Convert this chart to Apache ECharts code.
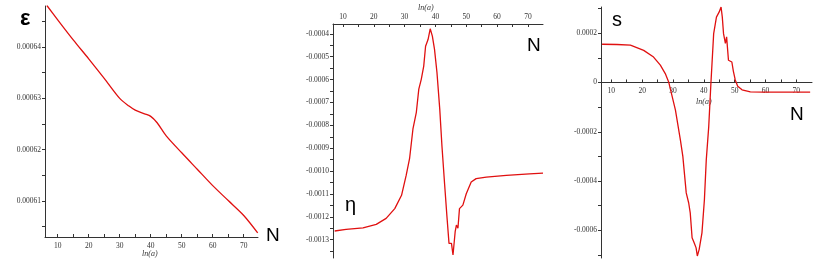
<!DOCTYPE html>
<html><head><meta charset="utf-8">
<script src="https://cdn.jsdelivr.net/npm/echarts@6/dist/echarts.min.js"></script>
<style>html,body{margin:0;padding:0;background:#fff}#c{width:817px;height:264px}</style>
</head><body><div id="c"></div>
<script>
// ---- data ----
const epsX = [6.5, 10, 15, 20, 25, 30, 33, 35, 38, 40, 42, 45, 50, 55, 60, 65, 70, 74.5];
const epsY = [0.0006481, 0.0006453, 0.0006414, 0.0006377, 0.0006339, 0.00063, 0.0006285, 0.0006277, 0.000627, 0.0006265, 0.0006253, 0.0006227, 0.0006194, 0.0006162, 0.000613, 0.0006101, 0.0006072, 0.0006038];

const etaX = [7.3, 11, 16.5, 20.8, 24, 26.8, 29, 30.5, 31.6, 32.7, 33.8, 34.6, 35.4, 36.2, 36.8, 37.6, 38.3, 39, 39.7, 40.5, 41.4, 42.1, 43, 43.7, 44.4, 44.9, 45.2, 45.7, 46.4, 46.8, 47.3, 47.8, 48.3, 48.9, 50, 51.6, 53.2, 56.5, 63, 70.5, 74.9];
const etaY = [-0.001262, -0.001255, -0.001248, -0.001233, -0.001207, -0.001164, -0.001106, -0.001019, -0.000946, -0.000816, -0.000743, -0.000642, -0.000599, -0.000541, -0.000454, -0.000425, -0.000378, -0.00041, -0.000468, -0.00057, -0.000729, -0.000888, -0.001062, -0.001193, -0.001316, -0.001323, -0.001316, -0.001367, -0.001265, -0.001236, -0.00125, -0.001164, -0.001158, -0.001149, -0.001099, -0.001048, -0.001033, -0.001026, -0.001019, -0.001012, -0.001009];

const sX = [7, 11.8, 16.2, 20.5, 23.7, 25.9, 27.5, 28.6, 30.8, 32.4, 33.2, 34.3, 35.1, 35.6, 36.2, 36.9, 37.5, 37.9, 38.5, 39.4, 40.2, 40.8, 41.6, 42.3, 43.2, 44.1, 44.6, 45, 45.6, 46, 46.4, 47, 47.4, 48, 49.1, 49.6, 50.2, 51, 52.4, 55.1, 59.4, 65.9, 74.5];
const sY = [0.000155, 0.000154, 0.000151, 0.00013, 0.000103, 0.00007, 0.000036, 0.000002, -0.000112, -0.000233, -0.0003, -0.000448, -0.000489, -0.000529, -0.00063, -0.000651, -0.000671, -0.000704, -0.000677, -0.00061, -0.000475, -0.000314, -0.000179, -0.000005, 0.000198, 0.000265, 0.000272, 0.000286, 0.000306, 0.000265, 0.000198, 0.000158, 0.000185, 0.00009, 0.000083, 0.000045, 0.00001, -0.000015, -0.00003, -0.000038, -0.000039, -0.000039, -0.000039];

const xTickLabels = [10, 20, 30, 40, 50, 60, 70];
const xTicks = [10, 15, 20, 25, 30, 35, 40, 45, 50, 55, 60, 65, 70];
const epsTickLabels = [0.00061, 0.00062, 0.00063, 0.00064];
const epsTicks = [0.000605, 0.00061, 0.000615, 0.00062, 0.000625, 0.00063, 0.000635, 0.00064, 0.000645];
const etaTickLabels = [-0.0013, -0.0012, -0.0011, -0.0010, -0.0009, -0.0008, -0.0007, -0.0006, -0.0005, -0.0004];
const etaTicks = [-0.00135, -0.0013, -0.00125, -0.0012, -0.00115, -0.0011, -0.00105, -0.001, -0.00095, -0.0009, -0.00085, -0.0008, -0.00075, -0.0007, -0.00065, -0.0006, -0.00055, -0.0005, -0.00045, -0.0004];
const sTickLabels = [-0.0006, -0.0004, -0.0002, 0, 0.0002];
const sTicks = [-0.0007, -0.0006, -0.0005, -0.0004, -0.0003, -0.0002, -0.0001, 0, 0.0001, 0.0002, 0.0003];

const zip = (a, b) => a.map((v, i) => [v, b[i]]);

const lblFont = {fontFamily: 'Liberation Serif', fontSize: 7.5, color: '#333'};
const axLine = {lineStyle: {color: '#333', width: 1}};

function xAxis(idx, min, max, pos, offset, margin) {
  return {
    type: 'value', gridIndex: idx, min: min, max: max, position: pos, offset: offset,
    axisLine: Object.assign({onZero: false}, axLine),
    axisTick: {customValues: xTicks, length: 3, inside: true, lineStyle: {color: '#333'}},
    axisLabel: Object.assign({customValues: xTickLabels, margin: margin}, lblFont),
    splitLine: {show: false}
  };
}
function yAxis(idx, min, max, ticks, labels, fmt) {
  return {
    type: 'value', gridIndex: idx, min: min, max: max,
    axisLine: Object.assign({show: true, onZero: false}, axLine),
    axisTick: {customValues: ticks, length: 3, lineStyle: {color: '#333'}},
    axisLabel: Object.assign({customValues: labels, margin: 4, formatter: fmt}, lblFont),
    splitLine: {show: false}
  };
}

const chart = echarts.init(document.getElementById('c'), null, {renderer: 'canvas'});
const lineStyle = {color: '#e01010', width: 1.3};
const bigFont = {fontFamily: 'Liberation Sans', fontSize: 19, fill: '#000'};

const g3 = {left: 601, width: 211, top: 7, height: 251};
const sMin = -0.000712, sMax = 0.000306;
const zeroOffset = -(0 - sMin) / (sMax - sMin) * g3.height;

chart.setOption({
  animation: false,
  grid: [
    {left: 45, width: 213, top: 6, height: 231},
    {left: 333, width: 210, top: 24, height: 234},
    g3
  ],
  xAxis: [
    xAxis(0, 5.9, 74.6, 'bottom', 0, 5),
    xAxis(1, 6.76, 74.9, 'top', 0, 3),
    xAxis(2, 6.65, 75.1, 'bottom', zeroOffset, 5)
  ],
  yAxis: [
    yAxis(0, 0.000603, 0.000648, epsTicks, epsTickLabels, v => v.toFixed(5)),
    yAxis(1, -0.00138, -0.000357, etaTicks, etaTickLabels, v => v.toFixed(4)),
    yAxis(2, sMin, sMax, sTicks, sTickLabels, v => v === 0 ? '0' : v.toFixed(4))
  ],
  series: [
    {type: 'line', xAxisIndex: 0, yAxisIndex: 0, data: zip(epsX, epsY), showSymbol: false, smooth: 0.3, lineStyle: lineStyle},
    {type: 'line', xAxisIndex: 1, yAxisIndex: 1, data: zip(etaX, etaY), showSymbol: false, lineStyle: lineStyle},
    {type: 'line', xAxisIndex: 2, yAxisIndex: 2, data: zip(sX, sY), showSymbol: false, lineStyle: lineStyle}
  ],
  graphic: [
    {type: 'text', left: 20, top: 8, style: Object.assign({}, bigFont, {text: 'ε', fontSize: 22, fontWeight: 'bold'})},
    {type: 'text', left: 266, top: 226, style: Object.assign({}, bigFont, {text: 'N'})},
    {type: 'text', left: 345, top: 195, style: Object.assign({}, bigFont, {text: 'η', fontSize: 20})},
    {type: 'text', left: 527, top: 36, style: Object.assign({}, bigFont, {text: 'N'})},
    {type: 'text', left: 612, top: 10, style: Object.assign({}, bigFont, {text: 's', fontSize: 20})},
    {type: 'text', left: 790, top: 105, style: Object.assign({}, bigFont, {text: 'N'})},
    {type: 'text', left: 142, top: 250, style: {text: 'ln(a)', fontFamily: 'Liberation Serif', fontStyle: 'italic', fontSize: 8, fill: '#333'}},
    {type: 'text', left: 418, top: 4, style: {text: 'ln(a)', fontFamily: 'Liberation Serif', fontStyle: 'italic', fontSize: 8, fill: '#333'}},
    {type: 'text', left: 696, top: 98, style: {text: 'ln(a)', fontFamily: 'Liberation Serif', fontStyle: 'italic', fontSize: 8, fill: '#333'}}
  ]
});
</script></body></html>
